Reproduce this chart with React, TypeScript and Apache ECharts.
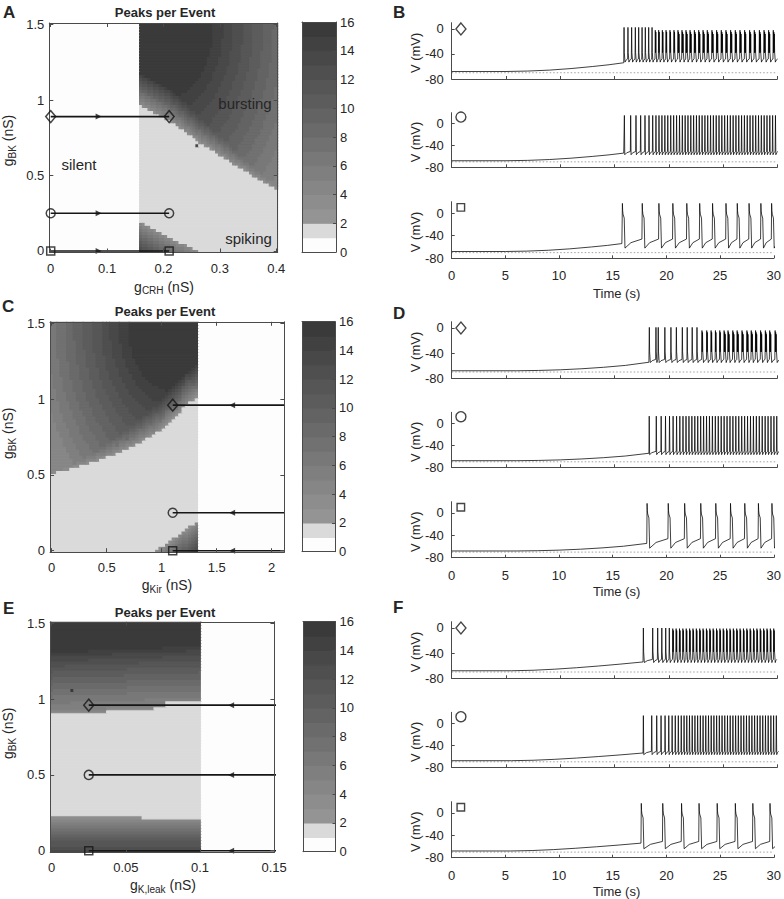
import React, { useEffect, useRef } from "react";
import * as echarts from "echarts";

const FONT = '"Liberation Sans", Arial, Helvetica, sans-serif';
const INK = "#161616";
const AXIS = "#4a4a4a";
const LABEL = "#262626";

// ---------------- colour scale (peaks per event band 0..15) ----------------
const levelGrays = [253, 218, 148, 141, 134, 127, 120, 113, 106, 99, 92, 86, 79, 72, 65, 58];
const colorbarTicks = [0, 2, 4, 6, 8, 10, 12, 14, 16];
const levelColors = levelGrays.map((g) => `rgb(${g},${g},${g})`);

// ---------------- Panel A (gCRH vs gBK) ----------------
const aCrhGrid = [0, 0.4, 0.005];
const aBkGrid = [0, 1.5, 0.02];
const aSilentBelow = 0.1575;
const aBurstEdgeX = [0.155, 0.18, 0.21, 0.24, 0.265, 0.295, 0.324, 0.36, 0.4];
const aBurstEdgeY = [0.98, 0.93, 0.87, 0.79, 0.72, 0.65, 0.58, 0.5, 0.42];
const aPocketX = [0.155, 0.262];
const aPocketY = [0.2, 0.0];
const aCore = [0.2, 1.5];
const aSpeckles = [[0.26, 0.7, 13]];
const aPathY = [0.89, 0.25, 0];
const aPathX = [0, 0.21];
const aArrowX = 0.085;
const aXTicks = [0, 0.1, 0.2, 0.3, 0.4];

// ---------------- Panel C (gKir vs gBK) ----------------
const cKirGrid = [0, 2.1, 0.03];
const cBkGrid = [0, 1.5, 0.02];
const cSilentAbove = 1.325;
const cBurstEdgeX = [0, 0.2, 0.44, 0.74, 1.0, 1.05, 1.15, 1.23, 1.33];
const cBurstEdgeY = [0.51, 0.55, 0.6, 0.69, 0.8, 0.84, 0.9, 0.97, 1.02];
const cPocketX = [0.95, 1.33];
const cPocketY = [0.0, 0.2];
const cCore = [1.1, 1.5];
const cSpeckles = [[0.7, 0.74, 8], [0.89, 0.83, 8], [0.6, 0.7, 7]];
const cPathY = [0.96, 0.25, 0];
const cPathX = [1.1, 2.12];
const cArrowX = 1.64;
const cXTicks = [0, 0.5, 1, 1.5, 2];

// ---------------- Panel E (gK,leak vs gBK) ----------------
const eLeakGrid = [0, 0.15, 0.002];
const eBkGrid = [0, 1.5, 0.02];
const eSilentAbove = 0.1005;
const eUpperEdgeX = [0, 0.06, 0.077, 0.078, 0.1];
const eUpperEdgeY = [0.905, 0.93, 0.95, 0.99, 1.0];
const eLowerEdgeX = [0, 0.06, 0.062, 0.1];
const eLowerEdgeY = [0.225, 0.225, 0.205, 0.205];
const eUpperBandY = [0.9, 1.0, 1.1, 1.2, 1.25, 1.3, 1.32];
const eUpperBandL = [4, 6, 8.5, 11, 12.5, 14, 15];
const eLowerBandY = [0, 0.05, 0.1, 0.15, 0.2, 0.225];
const eLowerBandL = [13, 11, 9, 6.5, 4, 3];
const eBandTilt = 0.4;
const eSpeckles = [[0.014, 1.05, 15]];
const ePathY = [0.96, 0.5, 0];
const ePathX = [0.025, 0.152];
const eArrowX = 0.121;
const eXTicks = [0, 0.05, 0.1, 0.15];

const bkTicks = [0, 0.5, 1, 1.5];

// ---------------- Voltage traces ----------------
const timeTicks = [0, 5, 10, 15, 20, 25, 30];
const voltTicks = [-80, -40, 0];
const restV = -70;

const bRampT = [0, 5, 7, 9, 11, 13, 14.5, 15.85];
const bRampV = [-68, -68, -67.3, -65.8, -63.3, -60, -57.2, -54];
const dRampT = [0, 6, 8, 10, 12, 14, 16, 18.17];
const dRampV = [-68, -68, -67.5, -66.5, -64.8, -62.5, -59.5, -54.5];
const fRampT = [0, 5.5, 7.5, 9.5, 11.5, 13.5, 15.5, 17.63];
const fRampV = [-68, -68, -67.2, -65.5, -63.2, -60.5, -57.5, -54];

const bSpikes1 = [15.88, 16.24, 16.58, 16.92, 17.23, 17.54, 17.84, 18.15, 18.46, 18.76, 19.07, 19.41, 19.75, 20.11, 20.48, 20.85, 21.22, 21.59, 21.96, 22.36, 22.76, 23.16, 23.55, 23.98, 24.41, 24.84, 25.27, 25.7, 26.13, 26.56, 26.99, 27.45, 27.88, 28.35, 28.78, 29.2, 29.63];
const bPeaks1 = [1, 1, 1, 1, 1, 1, 1, 1, 1, 2, 2, 2, 2, 2, 2, 3, 3, 3, 3, 3, 3, 3, 3, 3, 3, 3, 3, 3, 3, 3, 3, 3, 3, 3, 3, 3, 3];
const bSpikes2 = [15.91, 16.49, 16.98, 17.41, 17.81, 18.18, 18.52, 18.82, 19.1, 19.37, 19.64, 19.91, 20.18, 20.45, 20.72, 20.99, 21.25, 21.51, 21.77, 22.03, 22.29, 22.55, 22.81, 23.07, 23.33, 23.59, 23.85, 24.11, 24.37, 24.63, 24.89, 25.15, 25.41, 25.67, 25.93, 26.19, 26.45, 26.71, 26.97, 27.23, 27.49, 27.75, 28.01, 28.27, 28.53, 28.79, 29.05, 29.31, 29.57, 29.83];
const bSpikes3 = [15.9, 17.75, 19.3, 20.6, 21.9, 23.1, 24.3, 25.55, 26.6, 27.7, 28.8, 29.8];

const dSpikes1 = [18.21, 18.82, 19.03, 19.64, 20.2, 20.7, 21.25, 21.7, 22.16, 22.6, 23.06, 23.5, 23.9, 24.3, 24.7, 25.1, 25.46, 25.9, 26.3, 26.75, 27.2, 27.6, 28.0, 28.46, 28.9, 29.3, 29.8];
const dPeaks1 = [1, 1, 1, 1, 1, 1, 1, 1, 1, 1, 2, 2, 2, 2, 2, 3, 3, 3, 3, 3, 3, 3, 3, 3, 3, 3, 3];
const dSpikes2 = [18.2, 18.85, 19.3, 19.7, 20.07, 20.4, 20.72, 21.02, 21.31, 21.59, 21.86, 22.13, 22.4, 22.67, 22.94, 23.21, 23.48, 23.75, 24.02, 24.29, 24.56, 24.83, 25.1, 25.37, 25.64, 25.91, 26.18, 26.45, 26.72, 26.99, 27.26, 27.53, 27.8, 28.07, 28.34, 28.61, 28.88, 29.15, 29.42, 29.69, 29.95];
const dSpikes3 = [18.2, 20.17, 21.7, 23.2, 24.6, 25.97, 27.3, 28.57, 29.83];

const fSpikes1 = [17.66, 18.52, 18.98, 19.36, 19.72, 20.05, 20.37, 20.68, 20.99, 21.3, 21.61, 21.92, 22.23, 22.54, 22.85, 23.16, 23.47, 23.78, 24.09, 24.4, 24.71, 25.02, 25.33, 25.64, 25.95, 26.26, 26.57, 26.88, 27.19, 27.5, 27.81, 28.12, 28.43, 28.74, 29.05, 29.36, 29.67];
const fPeaks1 = [1, 1, 1, 1, 1, 1, 2, 2, 2, 2, 2, 2, 2, 2, 2, 2, 2, 2, 2, 2, 2, 2, 2, 2, 2, 2, 2, 2, 2, 2, 2, 2, 2, 2, 2, 2, 2];
const fSpikes2 = [17.66, 18.43, 18.89, 19.29, 19.66, 20.0, 20.31, 20.6, 20.88, 21.15, 21.41, 21.66, 21.91, 22.16, 22.41, 22.66, 22.91, 23.16, 23.41, 23.66, 23.91, 24.16, 24.41, 24.66, 24.91, 25.16, 25.41, 25.66, 25.91, 26.16, 26.41, 26.66, 26.91, 27.16, 27.41, 27.66, 27.91, 28.16, 28.41, 28.66, 28.91, 29.16, 29.41, 29.66, 29.91];
const fSpikes3 = [17.66, 19.66, 21.41, 23.04, 24.73, 26.42, 28.05, 29.65];

// [first-peak, later burst peak, trough, pre-spike] in mV
const b1Volts = [2.5, -2, -53, -48];
const b2Volts = [15, 15, -57, -51];
const b3Volts = [17, 17, -62, -46];
const d1Volts = [1, -4, -55, -50];
const d2Volts = [13, 13, -57, -51];
const d3Volts = [17, 17, -63, -46];
const f1Volts = [0, -1, -55, -50];
const f2Volts = [14, 14, -57, -51];
const f3Volts = [17, 17, -64, -51];

const traceTopV = [10, 20, 20];
const traceMarkerV = [0, 12, 10];
const traceMarkerT = 0.85;

// ---------------- helpers ----------------
function interp(xs: number[], ys: number[], x: number) {
  if (x <= xs[0]) return ys[0];
  for (let i = 1; i < xs.length; i++) {
    if (x <= xs[i]) {
      const f = (x - xs[i - 1]) / (xs[i] - xs[i - 1]);
      return ys[i - 1] + f * (ys[i] - ys[i - 1]);
    }
  }
  return ys[ys.length - 1];
}
const clampL = (v: number, lo = 2, hi = 15) => Math.max(lo, Math.min(hi, Math.round(v)));

function burstLevel(x: number, y: number, yb: number, core: number[], sx: number, sy: number, ring: number, radius: number) {
  const lb = 3 + (y - yb) * 55;
  const r = Math.hypot((x - core[0]) * sx, (y - core[1]) * sy);
  const lc = Math.max(4, 15 - Math.max(0, r - radius) / ring);
  return clampL(Math.min(lb, lc));
}

function levelA(x: number, y: number) {
  if (x < aSilentBelow) return 0;
  const yp = interp(aPocketX, aPocketY, x);
  if (y < yp) return clampL(3 + (yp - y) * 50);
  const yb = interp(aBurstEdgeX, aBurstEdgeY, x);
  if (y < yb) return 1;
  return burstLevel(x, y, yb, aCore, 564, 100, 10, 45);
}
function levelC(x: number, y: number) {
  if (x > cSilentAbove) return 0;
  const yp = interp(cPocketX, cPocketY, x);
  if (x > cPocketX[0] && y < yp) return clampL(3 + (yp - y) * 50);
  const yb = interp(cBurstEdgeX, cBurstEdgeY, x);
  if (y < yb) return 1;
  return burstLevel(x, y, yb, cCore, 110, 100, 9, 40);
}
function levelE(x: number, y: number) {
  if (x > eSilentAbove) return 0;
  const yt = y - eBandTilt * x;
  const yu = interp(eUpperEdgeX, eUpperEdgeY, x);
  const yl = interp(eLowerEdgeX, eLowerEdgeY, x);
  if (y >= yu) return clampL(interp(eUpperBandY, eUpperBandL, yt));
  if (y < yl) return clampL(interp(eLowerBandY, eLowerBandL, y), 2, 15);
  return 1;
}

function heatRuns(gx: number[], gy: number[], fn: (x: number, y: number) => number, speckles: number[][]) {
  const [x0, x1, dx] = gx;
  const [y0, y1, dy] = gy;
  const nx = Math.round((x1 - x0) / dx) + 1;
  const ny = Math.round((y1 - y0) / dy) + 1;
  const runs: number[][] = [];
  for (let j = 0; j < ny; j++) {
    const y = y0 + j * dy;
    const row: number[] = [];
    for (let i = 0; i < nx; i++) row.push(fn(x0 + i * dx, y));
    for (const s of speckles) {
      if (Math.round((s[1] - y0) / dy) === j) row[Math.round((s[0] - x0) / dx)] = s[2];
    }
    let i = 0;
    while (i < nx) {
      let k = i;
      while (k + 1 < nx && row[k + 1] === row[i]) k++;
      runs.push([x0 + i * dx - dx / 2, x0 + k * dx + dx / 2, y - dy / 2, y + dy / 2, row[i]]);
      i = k + 1;
    }
  }
  return runs;
}

function buildTrace(rampT: number[], rampV: number[], spikes: number[], volts: number[], shape: string, peaksPer?: number[]) {
  const [peak, burstPeak, trough, pre] = volts;
  const pts: number[][] = rampT.map((t, i) => [t, rampV[i]]);
  for (let i = 0; i < spikes.length; i++) {
    const t = spikes[i];
    const next = i + 1 < spikes.length ? spikes[i + 1] : t + (t - spikes[i - 1]);
    if (i > 0) pts.push([t - 0.03, pre]);
    let end: number;
    if (shape === "wide") {
      pts.push([t, peak], [t + 0.025, 4], [t + 0.06, -2], [t + 0.17, -9], [t + 0.24, trough]);
      end = t + 0.24;
    } else if (shape === "burst") {
      const n = peaksPer ? peaksPer[i] : 1;
      let tt = t;
      for (let k = 0; k < n; k++) {
        pts.push([tt, n === 1 ? peak : burstPeak - 3 * k]);
        pts.push([tt + 0.025, -38]);
        tt += 0.05;
      }
      end = tt - 0.05 + 0.09;
      pts.push([end, trough]);
    } else {
      pts.push([t, peak], [t + 0.035, trough]);
      end = t + 0.035;
    }
    const mid = end + 0.35 * (next - 0.03 - end);
    pts.push([mid, trough + 0.6 * (pre - trough)]);
    if (i === spikes.length - 1) pts.push([next - 0.03, pre]);
  }
  return pts;
}

let measureCtx: CanvasRenderingContext2D | null = null;
function textW(s: string, size: number, weight = "normal") {
  if (!measureCtx) measureCtx = document.createElement("canvas").getContext("2d");
  if (!measureCtx) return s.length * size * 0.55;
  measureCtx.font = `${weight} ${size}px ${FONT}`;
  return measureCtx.measureText(s).width;
}

function txt(text: string, x: number, y: number, size: number, opts: any = {}) {
  const align = opts.align || "center";
  return {
    type: "text",
    x,
    y,
    z: 100,
    rotation: opts.rotation || 0,
    style: {
      text,
      fontSize: size,
      fontFamily: FONT,
      fontWeight: opts.bold ? "bold" : "normal",
      fill: opts.fill || LABEL,
      align,
      textAlign: align,
      verticalAlign: "middle",
      textVerticalAlign: "middle",
    },
  };
}

function subLabel(main: string, sub: string, rest: string, cx: number, cy: number, vertical: boolean) {
  const w1 = textW(main, 14);
  const w2 = textW(sub, 10);
  const w3 = textW(rest, 14);
  const x0 = -(w1 + w2 + w3) / 2;
  const part = (t: string, x: number, y: number, s: number) => ({
    type: "text",
    x,
    y,
    style: { text: t, fontSize: s, fontFamily: FONT, fill: LABEL, align: "left", textAlign: "left", verticalAlign: "middle", textVerticalAlign: "middle" },
  });
  return {
    type: "group",
    x: cx,
    y: cy,
    z: 100,
    rotation: vertical ? Math.PI / 2 : 0,
    children: [part(main, x0, 0, 14), part(sub, x0 + w1, 4, 10), part(rest, x0 + w1 + w2, 0, 14)],
  };
}

// ---------------- option ----------------
function buildOption() {
  const grid: any[] = [];
  const xAxis: any[] = [];
  const yAxis: any[] = [];
  const series: any[] = [];
  const graphic: any[] = [];

  const addGrid = (left: number, top: number, width: number, height: number) => {
    grid.push({ left, top, width, height, containLabel: false, show: false });
    return grid.length - 1;
  };
  const labelStyle = { fontSize: 13, color: LABEL, fontFamily: FONT };
  const lineStyle = { color: AXIS, width: 1 };

  const rectRender = (params: any, api: any) => {
    const a = api.coord([api.value(0), api.value(3)]);
    const b = api.coord([api.value(1), api.value(2)]);
    const c = levelColors[api.value(4)];
    return {
      type: "rect",
      shape: { x: a[0], y: a[1], width: b[0] - a[0], height: b[1] - a[1] },
      style: { fill: c, stroke: c, lineWidth: 1.1 },
    };
  };

  // ---- heatmap panels ----
  const heatPanel = (
    rect: number[],
    xr: number[],
    xTicks: number[],
    runs: number[][],
    pathX: number[],
    pathY: number[],
    arrowX: number,
    arrowRot: number,
    markersBothEnds: boolean,
    markerX: number
  ) => {
    const gi = addGrid(rect[0], rect[1], rect[2], rect[3]);
    const yr = [-0.01, 1.51];
    const xi = xAxis.length;
    xAxis.push({
      gridIndex: gi, type: "value", min: xr[0], max: xr[1], position: "bottom", z: 5,
      axisLine: { show: true, onZero: false, lineStyle },
      axisTick: { show: true, inside: true, length: 4, customValues: xTicks, lineStyle },
      axisLabel: { ...labelStyle, margin: 9, customValues: xTicks },
      splitLine: { show: false },
    });
    xAxis.push({
      gridIndex: gi, type: "value", min: xr[0], max: xr[1], position: "top", z: 5,
      axisLine: { show: true, onZero: false, lineStyle },
      axisTick: { show: true, inside: true, length: 4, customValues: xTicks, lineStyle },
      axisLabel: { show: false }, splitLine: { show: false },
    });
    const yi = yAxis.length;
    yAxis.push({
      gridIndex: gi, type: "value", min: yr[0], max: yr[1], position: "left", z: 5,
      axisLine: { show: true, onZero: false, lineStyle },
      axisTick: { show: true, inside: true, length: 4, customValues: bkTicks, lineStyle },
      axisLabel: { ...labelStyle, margin: 5, customValues: bkTicks },
      splitLine: { show: false },
    });
    yAxis.push({
      gridIndex: gi, type: "value", min: yr[0], max: yr[1], position: "right", z: 5,
      axisLine: { show: true, onZero: false, lineStyle },
      axisTick: { show: true, inside: true, length: 4, customValues: bkTicks, lineStyle },
      axisLabel: { show: false }, splitLine: { show: false },
    });
    series.push({
      type: "custom", xAxisIndex: xi, yAxisIndex: yi, renderItem: rectRender, data: runs, clip: true, z: 1,
      encode: { x: [0, 1], y: [2, 3] }, silent: true,
    });
    const symbols = ["diamond", "circle", "rect"];
    const sizes: any[] = [[10, 12], 9, 8];
    pathY.forEach((y, k) => {
      series.push({
        type: "line", xAxisIndex: xi, yAxisIndex: yi, data: [[pathX[0], y], [pathX[1], y]],
        symbol: "none", lineStyle: { color: INK, width: 1.6 }, z: 3, clip: true, silent: true,
      });
      series.push({
        type: "scatter", xAxisIndex: xi, yAxisIndex: yi, data: [[arrowX, y]], symbol: "triangle",
        symbolSize: [6, 6], symbolRotate: arrowRot, itemStyle: { color: INK }, z: 4, silent: true,
      });
      const mk = markersBothEnds ? [[pathX[0], y], [pathX[1], y]] : [[markerX, y]];
      series.push({
        type: "scatter", xAxisIndex: xi, yAxisIndex: yi, data: mk, symbol: symbols[k], symbolSize: sizes[k],
        itemStyle: { color: "rgba(0,0,0,0)", borderColor: INK, borderWidth: 1.5 }, z: 5, silent: true,
      });
    });
  };

  const colorbar = (rect: number[]) => {
    const gi = addGrid(rect[0], rect[1], rect[2], rect[3]);
    const xi = xAxis.length;
    const base = { gridIndex: gi, type: "value", min: 0, max: 1, z: 5, axisLine: { show: true, onZero: false, lineStyle }, axisTick: { show: false }, axisLabel: { show: false }, splitLine: { show: false } };
    xAxis.push({ ...base, position: "bottom" });
    xAxis.push({ ...base, position: "top" });
    const yi = yAxis.length;
    yAxis.push({ ...base, min: 0, max: 16, position: "left" });
    yAxis.push({
      gridIndex: gi, type: "value", min: 0, max: 16, position: "right", z: 5,
      axisLine: { show: true, onZero: false, lineStyle },
      axisTick: { show: true, inside: true, length: 3, customValues: colorbarTicks, lineStyle },
      axisLabel: { ...labelStyle, margin: 4, customValues: colorbarTicks },
      splitLine: { show: false },
    });
    series.push({
      type: "custom", xAxisIndex: xi, yAxisIndex: yi, renderItem: rectRender, clip: true, z: 1, silent: true,
      encode: { x: [0, 1], y: [2, 3] },
      data: levelColors.map((_, k) => [0, 1, k, k + 1, k]),
    });
  };

  heatPanel([49.3, 23, 228.4, 229.5], [-0.0025, 0.4025], aXTicks, heatRuns(aCrhGrid, aBkGrid, levelA, aSpeckles), aPathX, aPathY, aArrowX, -90, true, 0);
  colorbar([302, 22, 34, 230]);
  heatPanel([50.05, 321.8, 234.3, 230.4], [-0.015, 2.115], cXTicks, heatRuns(cKirGrid, cBkGrid, levelC, cSpeckles), cPathX, cPathY, cArrowX, 90, false, cPathX[0]);
  colorbar([302, 321.7, 33, 230]);
  heatPanel([50.2, 621.8, 224.2, 230.4], [-0.001, 0.1502], eXTicks, heatRuns(eLeakGrid, eBkGrid, levelE, eSpeckles), ePathX, ePathY, eArrowX, 90, false, ePathX[0]);
  colorbar([303, 621.7, 32.5, 230]);

  // ---- voltage trace panels ----
  const tracePanels = [
    { tops: [22.7, 112.7, 201.7], heights: [56.3, 54.6, 56.6], traces: [
      buildTrace(bRampT, bRampV, bSpikes1, b1Volts, "burst", bPeaks1),
      buildTrace(bRampT, bRampV, bSpikes2, b2Volts, "tonic"),
      buildTrace(bRampT, bRampV, bSpikes3, b3Volts, "wide"),
    ] },
    { tops: [321.7, 412.3, 501.7], heights: [56.6, 55, 56], traces: [
      buildTrace(dRampT, dRampV, dSpikes1, d1Volts, "burst", dPeaks1),
      buildTrace(dRampT, dRampV, dSpikes2, d2Volts, "tonic"),
      buildTrace(dRampT, dRampV, dSpikes3, d3Volts, "wide"),
    ] },
    { tops: [621.7, 712.3, 801.7], heights: [56.6, 55, 56], traces: [
      buildTrace(fRampT, fRampV, fSpikes1, f1Volts, "burst", fPeaks1),
      buildTrace(fRampT, fRampV, fSpikes2, f2Volts, "tonic"),
      buildTrace(fRampT, fRampV, fSpikes3, f3Volts, "wide"),
    ] },
  ];
  const tSymbols = ["diamond", "circle", "rect"];
  const tSizes: any[] = [[10, 12], 10, 7.5];
  tracePanels.forEach((p) => {
    p.traces.forEach((data, r) => {
      const gi = addGrid(451.7, p.tops[r], 325.6, p.heights[r]);
      const xi = xAxis.length;
      xAxis.push({
        gridIndex: gi, type: "value", min: 0, max: 30, position: "bottom", z: 5,
        axisLine: { show: true, onZero: false, lineStyle },
        axisTick: { show: true, inside: true, length: 3, customValues: timeTicks, lineStyle },
        axisLabel: r === 2 ? { ...labelStyle, margin: 11, customValues: timeTicks } : { show: false },
        splitLine: { show: false },
      });
      const yi = yAxis.length;
      yAxis.push({
        gridIndex: gi, type: "value", min: -80, max: traceTopV[r], position: "left", z: 5,
        axisLine: { show: true, onZero: false, lineStyle },
        axisTick: { show: true, inside: true, length: 3, customValues: voltTicks, lineStyle },
        axisLabel: { ...labelStyle, margin: 8, customValues: voltTicks },
        splitLine: { show: false },
      });
      series.push({
        type: "line", xAxisIndex: xi, yAxisIndex: yi, data: [[0, restV], [30, restV]], symbol: "none",
        lineStyle: { color: "#8a8a8a", width: 0.8, type: [1.5, 2] }, z: 2, silent: true,
      });
      series.push({
        type: "line", xAxisIndex: xi, yAxisIndex: yi, data, symbol: "none", clip: true,
        lineStyle: { color: "#000", width: 0.75 }, z: 3, silent: true,
      });
      series.push({
        type: "scatter", xAxisIndex: xi, yAxisIndex: yi, data: [[traceMarkerT, traceMarkerV[r]]],
        symbol: tSymbols[r], symbolSize: tSizes[r],
        itemStyle: { color: "rgba(0,0,0,0)", borderColor: INK, borderWidth: 1.4 }, z: 4, silent: true,
      });
      graphic.push(txt("V (mV)", 415, p.tops[r] + p.heights[r] / 2 + 2, 13, { rotation: Math.PI / 2 }));
    });
  });

  // ---- texts ----
  graphic.push(txt("A", 3, 12, 17, { bold: true, align: "left" }));
  graphic.push(txt("B", 393, 12, 17, { bold: true, align: "left" }));
  graphic.push(txt("C", 2, 306, 17, { bold: true, align: "left" }));
  graphic.push(txt("D", 393, 313.5, 17, { bold: true, align: "left" }));
  graphic.push(txt("E", 3, 608, 17, { bold: true, align: "left" }));
  graphic.push(txt("F", 393, 607, 17, { bold: true, align: "left" }));

  graphic.push(txt("Peaks per Event", 165, 12.5, 13, { bold: true }));
  graphic.push(txt("Peaks per Event", 165, 311.7, 13, { bold: true }));
  graphic.push(txt("Peaks per Event", 165, 612.7, 13, { bold: true }));

  graphic.push(subLabel("g", "CRH", " (nS)", 164, 286.5, false));
  graphic.push(subLabel("g", "Kir", " (nS)", 167, 585, false));
  graphic.push(subLabel("g", "K,leak", " (nS)", 163, 885, false));
  graphic.push(subLabel("g", "BK", " (nS)", 8, 140.5, true));
  graphic.push(subLabel("g", "BK", " (nS)", 8, 433.3, true));
  graphic.push(subLabel("g", "BK", " (nS)", 8, 733.3, true));

  graphic.push(txt("Time (s)", 616.7, 293.3, 13));
  graphic.push(txt("Time (s)", 616.7, 591.7, 13));
  graphic.push(txt("Time (s)", 616.7, 891.7, 13));

  graphic.push(txt("bursting", 245, 103, 15));
  graphic.push(txt("silent", 79, 164, 15));
  graphic.push(txt("spiking", 248.5, 238, 15));

  return {
    animation: false,
    backgroundColor: "#ffffff",
    grid,
    xAxis,
    yAxis,
    series,
    graphic: { elements: graphic },
  };
}

export default function App() {
  const ref = useRef<HTMLDivElement>(null);
  useEffect(() => {
    if (!ref.current) return;
    const chart = echarts.init(ref.current, null, { renderer: "svg" });
    chart.setOption(buildOption() as any);
    return () => chart.dispose();
  }, []);
  return <div ref={ref} style={{ position: "fixed", left: 0, top: 0, width: 784, height: 899, background: "#fff" }} />;
}
